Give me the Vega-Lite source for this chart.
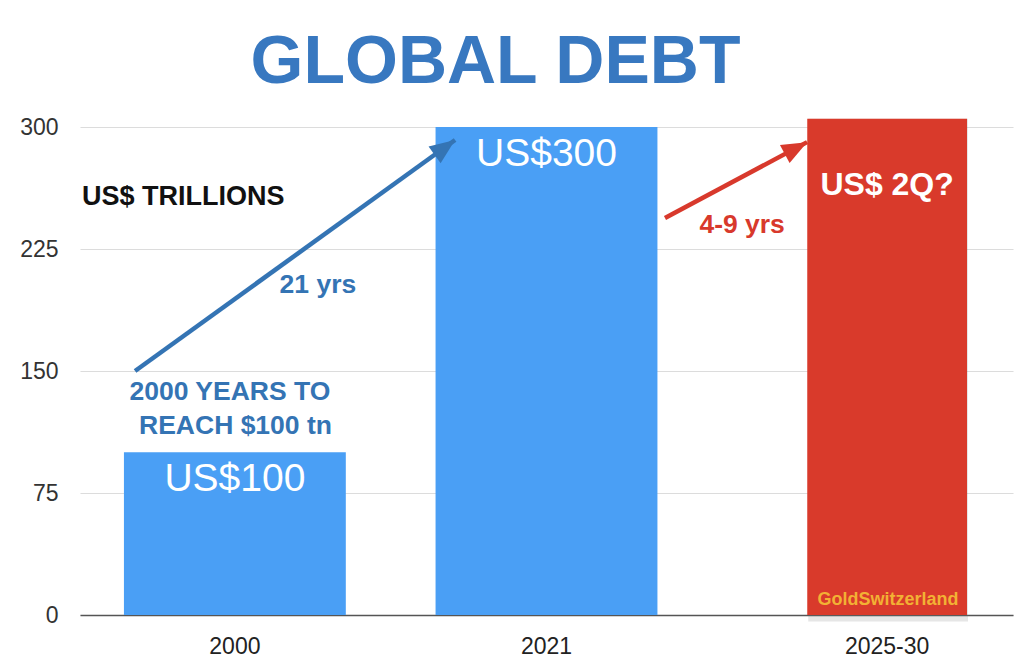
{
  "$schema": "https://vega.github.io/schema/vega-lite/v6.json",
  "width": 933,
  "height": 488,
  "autosize": {"type": "none"},
  "padding": {"top": 127, "left": 80, "right": 11, "bottom": 54},
  "background": "white",
  "config": {"view": {"stroke": null}, "font": "Liberation Sans"},
  "title": {
    "text": "GLOBAL DEBT",
    "font": "Liberation Sans",
    "fontSize": 68,
    "fontWeight": "bold",
    "color": "#3878c0",
    "anchor": "middle",
    "dx": -51,
    "offset": 19
  },
  "datasets": {
    "bars": [
      {"period": "2000", "debt": 100, "label": "US$100", "kind": "actual"},
      {"period": "2021", "debt": 300, "label": "US$300", "kind": "actual"},
      {"period": "2025-30", "debt": 305, "label": "US$ 2Q?", "kind": "projection"}
    ],
    "arrows": [
      {"arrow": "growth", "pos": -0.323, "val": 150, "tip": false},
      {"arrow": "growth", "pos": 0.706, "val": 292, "tip": true},
      {"arrow": "projection", "pos": 1.381, "val": 244, "tip": false},
      {"arrow": "projection", "pos": 1.838, "val": 290.7, "tip": true}
    ],
    "notes": [
      {"note": "US$ TRILLIONS", "kind": "unit", "pos": -0.4936, "val": 257},
      {"note": "21 yrs", "kind": "growth", "pos": 0.265, "val": 203},
      {"note": "2000 YEARS TO", "kind": "growth", "pos": -0.018, "val": 137},
      {"note": "REACH $100 tn", "kind": "growth", "pos": 0.0, "val": 116},
      {"note": "4-9 yrs", "kind": "projection", "pos": 1.629, "val": 240},
      {"note": "GoldSwitzerland", "kind": "brand", "pos": 2.098, "val": 9}
    ]
  },
  "resolve": {"scale": {"x": "independent"}},
  "layer": [
    {
      "data": {"name": "bars"},
      "encoding": {
        "x": {
          "field": "period",
          "type": "nominal",
          "sort": null,
          "scale": {"domain": ["2000", "2021", "2025-30"], "paddingInner": 0.288, "paddingOuter": 0.141},
          "axis": {
            "title": null,
            "labelAngle": 0,
            "ticks": false,
            "domainColor": "#555555",
            "domainWidth": 1.5,
            "labelFontSize": 23,
            "labelColor": "#222222",
            "labelPadding": 20,
            "labelOffset": {"condition": {"test": "datum.value === '2025-30'", "value": 29}, "value": 0}
          }
        },
        "y": {
          "field": "debt",
          "type": "quantitative",
          "scale": {"domain": [0, 300], "nice": false},
          "axis": {
            "title": null,
            "values": [0, 75, 150, 225, 300],
            "domain": false,
            "ticks": false,
            "labelFontSize": 23,
            "labelColor": "#333333",
            "labelPadding": 22,
            "gridColor": "#dcdcdc",
            "gridWidth": 1.2
          }
        }
      },
      "layer": [
        {
          "transform": [{"filter": "datum.kind === 'projection'"}],
          "mark": {"type": "bar", "color": "#777777", "opacity": 0.18, "width": {"band": 0.72}, "xOffset": 30},
          "encoding": {"y": {"field": "debt", "type": "quantitative"}, "y2": {"datum": -4}}
        },
        {
          "transform": [{"filter": "datum.kind === 'actual'"}],
          "mark": {"type": "bar", "color": "#4a9ff5"}
        },
        {
          "transform": [{"filter": "datum.kind === 'projection'"}],
          "mark": {"type": "bar", "color": "#d93a2b", "width": {"band": 0.72}, "xOffset": 29}
        },
        {
          "transform": [{"filter": "datum.kind === 'actual'"}],
          "mark": {"type": "text", "color": "white", "fontSize": 39, "font": "Liberation Sans", "baseline": "alphabetic", "dy": 39},
          "encoding": {"text": {"field": "label"}}
        },
        {
          "transform": [{"filter": "datum.kind === 'projection'"}],
          "mark": {"type": "text", "color": "white", "fontSize": 32, "fontWeight": "bold", "font": "Liberation Sans", "baseline": "alphabetic", "dy": 76, "xOffset": 29},
          "encoding": {"text": {"field": "label"}}
        }
      ]
    },
    {
      "encoding": {
        "x": {"field": "pos", "type": "quantitative", "scale": {"domain": [-0.5, 2.5], "nice": false, "zero": false}, "axis": null},
        "y": {"field": "val", "type": "quantitative", "scale": {"domain": [0, 300], "nice": false}}
      },
      "layer": [
        {
          "data": {"name": "arrows"},
          "mark": {"type": "line", "strokeWidth": 4.5, "strokeCap": "butt"},
          "encoding": {
            "color": {"field": "arrow", "type": "nominal", "scale": {"domain": ["growth", "projection"], "range": ["#3474b4", "#d8392c"]}, "legend": null},
            "detail": {"field": "arrow"}
          }
        },
        {
          "data": {"name": "arrows"},
          "transform": [{"filter": "datum.tip && datum.arrow === 'growth'"}],
          "mark": {"type": "point", "shape": "M0,0L0.65,1.6L-0.65,1.6Z", "filled": true, "opacity": 1, "size": 1000, "angle": 54, "color": "#3474b4"}
        },
        {
          "data": {"name": "arrows"},
          "transform": [{"filter": "datum.tip && datum.arrow === 'projection'"}],
          "mark": {"type": "point", "shape": "M0,0L0.65,1.6L-0.65,1.6Z", "filled": true, "opacity": 1, "size": 1000, "angle": 62, "color": "#d8392c"}
        },
        {
          "data": {"name": "notes"},
          "transform": [{"filter": "datum.kind === 'unit'"}],
          "mark": {"type": "text", "align": "left", "baseline": "middle", "fontSize": 27, "fontWeight": "bold", "color": "#111111"},
          "encoding": {"text": {"field": "note"}}
        },
        {
          "data": {"name": "notes"},
          "transform": [{"filter": "datum.kind === 'growth' || datum.kind === 'projection'"}],
          "mark": {"type": "text", "align": "center", "baseline": "middle", "fontSize": 26.5, "fontWeight": "bold"},
          "encoding": {
            "text": {"field": "note"},
            "color": {"field": "kind", "type": "nominal", "scale": {"domain": ["growth", "projection"], "range": ["#3a7bbd", "#d8392c"]}, "legend": null}
          }
        },
        {
          "data": {"name": "notes"},
          "transform": [{"filter": "datum.kind === 'brand'"}],
          "mark": {"type": "text", "align": "center", "baseline": "middle", "fontSize": 18, "fontWeight": "bold", "color": "#f2b134"},
          "encoding": {"text": {"field": "note"}}
        }
      ]
    }
  ]
}
